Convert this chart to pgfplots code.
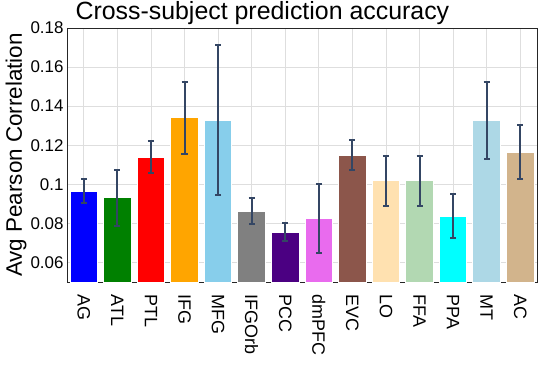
\documentclass[border=0pt]{standalone}
\usepackage{pgfplots}
\pgfplotsset{compat=1.18}
\usepackage{fontspec}
\setmainfont{Liberation Sans}

\definecolor{cAG}{RGB}{0,0,255}
\definecolor{cATL}{RGB}{0,128,0}
\definecolor{cPTL}{RGB}{255,0,0}
\definecolor{cIFG}{RGB}{255,165,0}
\definecolor{cMFG}{RGB}{135,206,235}
\definecolor{cIFGOrb}{RGB}{128,128,128}
\definecolor{cPCC}{RGB}{75,0,130}
\definecolor{cdmPFC}{RGB}{233,107,238}
\definecolor{cEVC}{RGB}{140,86,75}
\definecolor{cLO}{RGB}{255,225,176}
\definecolor{cFFA}{RGB}{178,216,178}
\definecolor{cPPA}{RGB}{0,255,255}
\definecolor{cMT}{RGB}{173,216,230}
\definecolor{cAC}{RGB}{210,180,140}
\definecolor{errc}{RGB}{52,70,100}

\begin{document}
\begin{tikzpicture}
\useasboundingbox (-67bp,-104bp) rectangle (473bp,282bp);
\begin{axis}[
    at={(0,0)}, anchor=south west,
    scale only axis,
    width=470bp, height=254bp,
    ybar, bar width=0.82, bar shift=0pt,
    xmin=-0.5, xmax=13.5,
    ymin=0.05, ymax=0.18,
    xtick={0,...,13},
    xticklabels={AG,ATL,PTL,IFG,MFG,IFGOrb,PCC,dmPFC,EVC,LO,FFA,PPA,MT,AC},
    ytick={0.06,0.08,...,0.181},
    yticklabel style={/pgf/number format/fixed, /pgf/number format/precision=2},
    /pgf/number format/assume math mode=true,
    ticklabel style={font=\fontsize{17}{20}\selectfont},
    xticklabel style={font=\fontsize{18}{20}\selectfont, yshift=-9bp, rotate=-90, anchor=west},
    major tick length=0pt,
    grid=major,
    grid style={draw=black!13, line width=0.8bp},
    axis line style={draw=black!85, line width=0.9bp},
    title={Cross-subject prediction accuracy},
    title style={font=\fontsize{25}{28}\selectfont, at={(rel axis cs:0,1)}, anchor=base west, xshift=5bp, yshift=3bp},
    ylabel={Avg Pearson Correlation},
    ylabel style={font=\fontsize{22.5}{26}\selectfont, at={(axis description cs:-0.1383,0.5)}, anchor=north, rotate=0},
    every axis plot/.append style={draw=white, line width=0.8bp},
    error bars/y dir=both, error bars/y explicit,
    error bars/error bar style={draw=errc, line width=2bp},
    error bars/error mark options={rotate=90, mark size=3bp, line width=2bp, draw=errc},
]
\addplot[fill=cAG] coordinates {(0,0.0965) +- (0,0.0060)};
\addplot[fill=cATL] coordinates {(1,0.0931) +- (0,0.0142)};
\addplot[fill=cPTL] coordinates {(2,0.1140) +- (0,0.0080)};
\addplot[fill=cIFG] coordinates {(3,0.1340) +- (0,0.0184)};
\addplot[fill=cMFG] coordinates {(4,0.1329) +- (0,0.0384)};
\addplot[fill=cIFGOrb] coordinates {(5,0.0862) +- (0,0.0067)};
\addplot[fill=cPCC] coordinates {(6,0.0756) +- (0,0.0044)};
\addplot[fill=cdmPFC] coordinates {(7,0.0825) +- (0,0.0179)};
\addplot[fill=cEVC] coordinates {(8,0.1150) +- (0,0.0076)};
\addplot[fill=cLO] coordinates {(9,0.1018) +- (0,0.0129)};
\addplot[fill=cFFA] coordinates {(10,0.1018) +- (0,0.0129)};
\addplot[fill=cPPA] coordinates {(11,0.0837) +- (0,0.0112)};
\addplot[fill=cMT] coordinates {(12,0.1326) +- (0,0.0199)};
\addplot[fill=cAC] coordinates {(13,0.1164) +- (0,0.0139)};
\end{axis}
\end{tikzpicture}
\end{document}
